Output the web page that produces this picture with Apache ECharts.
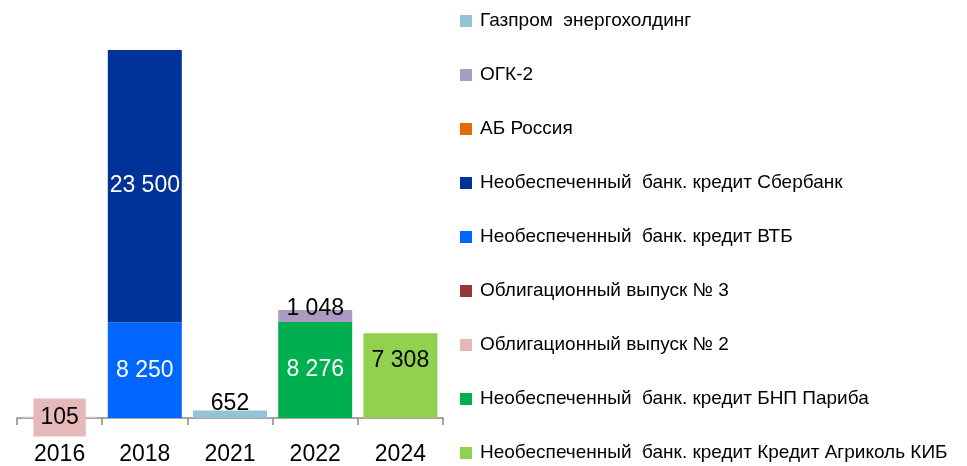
<!DOCTYPE html>
<html>
<head>
<meta charset="utf-8">
<script src="https://cdn.jsdelivr.net/npm/echarts@6/dist/echarts.min.js"></script>
<style>
html,body{margin:0;padding:0;background:#fff;}
#main{width:967px;height:466px;}
</style>
</head>
<body>
<div id="main"></div>
<script>
var years = ['2016', '2018', '2021', '2022', '2024'];
// серии снизу вверх по стопке
var seriesNames = [
	'Необеспеченный  банк. кредит Кредит Агриколь КИБ',
	'Необеспеченный  банк. кредит БНП Париба',
	'Облигационный выпуск № 2',
	'Облигационный выпуск № 3',
	'Необеспеченный  банк. кредит ВТБ',
	'Необеспеченный  банк. кредит Сбербанк',
	'АБ Россия',
	'ОГК-2',
	'Газпром  энергохолдинг'
];
var agricole = [null, null, null, null, 7308];
var bnp = [null, null, null, 8276, null];
var bond2 = [105, null, null, null, null];
var bond3 = [null, null, null, null, null];
var vtb = [null, 8250, null, null, null];
var sber = [null, 23500, null, null, null];
var abRossiya = [null, null, null, null, null];
var ogk2 = [null, null, null, 1048, null];
var gazprom = [null, null, 652, null, null];
var colorArray = ['#92d050', '#00b050', '#e6b9b8', '#953735', '#0066ff', '#003399', '#e36c09', '#a99bc1', '#93c4d5'];

var FONT = "'Liberation Sans Narrow','Arial Narrow','Liberation Sans',Arial,sans-serif";

function fmt(v){
	return String(v).replace(/\B(?=(\d{3})+(?!\d))/g, ' ');
}

// подписи: цвет, положение
var labelCfg = [
	{position: 'inside', color: '#000', offset: [0, -15]},
	{position: 'inside', color: '#fff'},
	{position: 'inside', color: '#000', backgroundColor: '#e6b9b8', padding: [8, 7, 7, 7]},
	{position: 'inside', color: '#000'},
	{position: 'inside', color: '#fff'},
	{position: 'inside', color: '#fff'},
	{position: 'inside', color: '#000'},
	{position: 'top', color: '#000', distance: -10},
	{position: 'top', color: '#000', distance: -5}
];

var dataList = [agricole, bnp, bond2, bond3, vtb, sber, abRossiya, ogk2, gazprom];
var series = [];
for (var i = 0; i < seriesNames.length; i++) {
	var lc = labelCfg[i];
	series.push({
		name: seriesNames[i],
		type: 'bar',
		stack: 'total',
		barWidth: 74,
		itemStyle: {color: colorArray[i]},
		label: {
			show: true,
			position: lc.position,
			distance: lc.distance != null ? lc.distance : 5,
			offset: lc.offset || [0, 0],
			color: lc.color,
			backgroundColor: lc.backgroundColor || 'transparent',
			padding: lc.padding || 0,
			fontFamily: FONT,
			fontSize: 23,
			formatter: function (p) { return fmt(p.value); }
		},
		data: dataList[i]
	});
}

var chart = echarts.init(document.getElementById('main'));
chart.setOption({
	animation: false,
	grid: {left: 17, right: 524, top: 47, bottom: 46},
	legend: {
		orient: 'vertical',
		left: 460,
		top: 11,
		height: 455,
		padding: 0,
		itemWidth: 12,
		itemHeight: 12,
		itemGap: 34,
		icon: 'rect',
		data: seriesNames.slice().reverse(),
		textStyle: {fontFamily: FONT, fontSize: 19, lineHeight: 20, color: '#000', padding: [0, 0, 0, 3]}
	},
	xAxis: {
		type: 'category',
		data: years,
		axisLine: {lineStyle: {color: '#898989', width: 1.5}},
		axisTick: {show: true, length: 7, lineStyle: {color: '#898989', width: 1.5}},
		axisLabel: {fontFamily: FONT, fontSize: 23, color: '#000', margin: 25}
	},
	yAxis: {
		type: 'value',
		min: 0,
		max: 32000,
		show: false,
		splitLine: {show: false}
	},
	series: series
});
</script>
</body>
</html>
